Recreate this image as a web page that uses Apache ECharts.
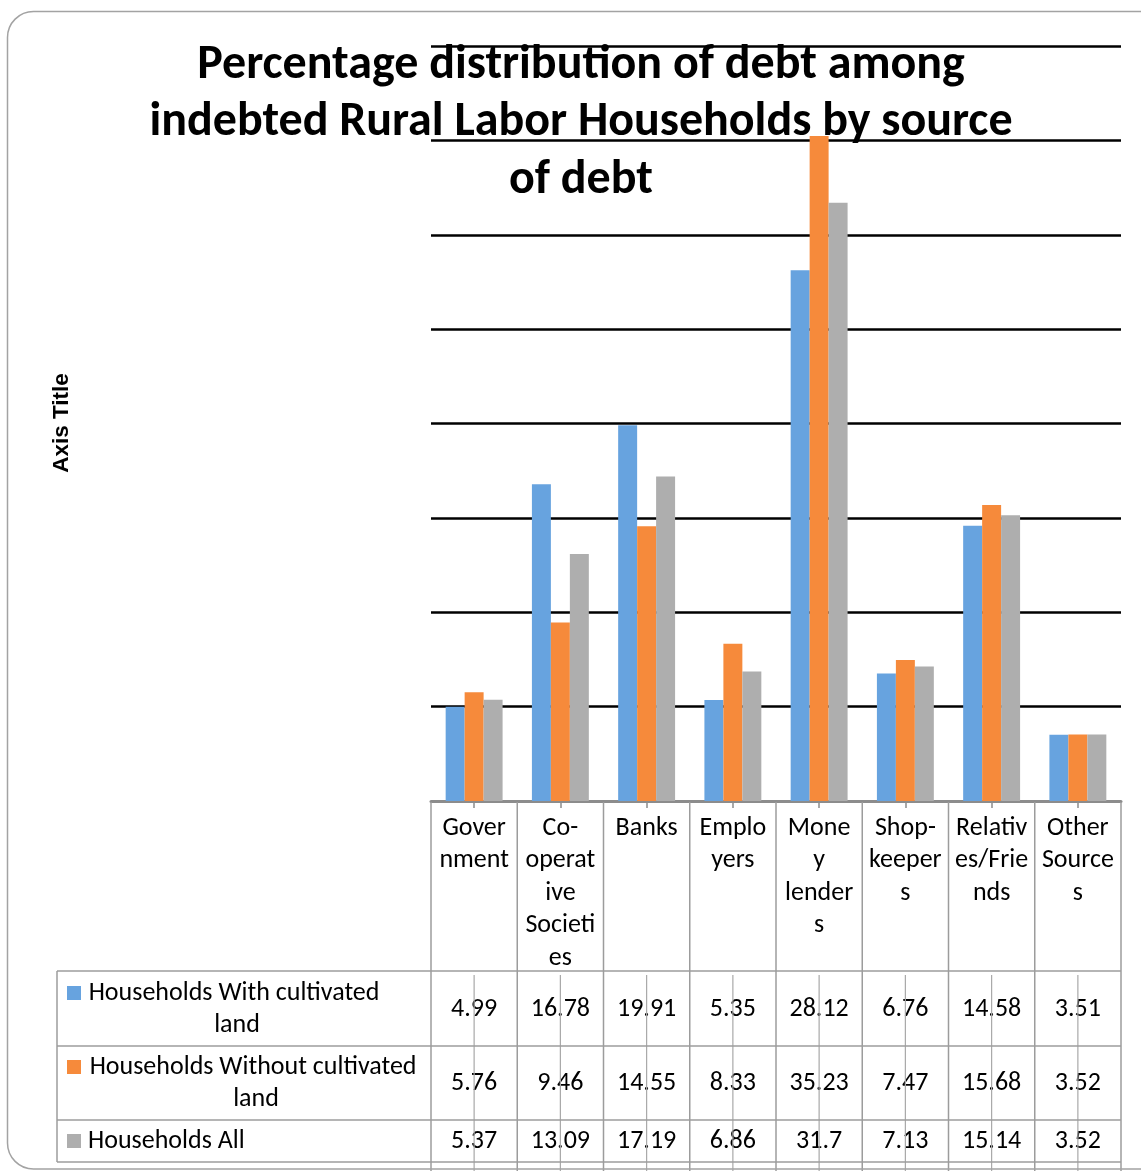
<!DOCTYPE html>
<html><head><meta charset="utf-8">
<script src="https://cdn.jsdelivr.net/npm/echarts@6/dist/echarts.min.js"></script>
<style>html,body{margin:0;padding:0;background:#fff}#c{width:1141px;height:1171px}</style>
</head><body><div id="c"></div>
<script>
// ---- data ----
const categories = ['Government', 'Co-operative Societies', 'Banks', 'Employers', 'Money lenders', 'Shop-keepers', 'Relatives/Friends', 'Other Sources'];
// header labels as wrapped in the reference's data table
const categoryLabels = ['Gover\nnment', 'Co-\noperat\nive\nSocieti\nes', 'Banks', 'Emplo\nyers', 'Mone\ny\nlender\ns', 'Shop-\nkeeper\ns', 'Relativ\nes/Frie\nnds', 'Other\nSource\ns'];
const seriesNames = ['Households With cultivated land', 'Households Without cultivated land', 'Households All'];
const withLand = [4.99, 16.78, 19.91, 5.35, 28.12, 6.76, 14.58, 3.51];
const withoutLand = [5.76, 9.46, 14.55, 8.33, 35.23, 7.47, 15.68, 3.52];
const allHouseholds = [5.37, 13.09, 17.19, 6.86, 31.7, 7.13, 15.14, 3.52];
const titleText = 'Percentage distribution of debt among\nindebted Rural Labor Households by source\nof debt';
const yAxisTitle = 'Axis Title';

// ---- style ----
const colors = ['#67A3DF', '#F68A3B', '#AEAEAE'];
const FONT = 'Carlito, Lato, "Open Sans", sans-serif';
const GRID = { left: 431, right: 20, top: 46, bottom: 370 };
const H = 1171;
const axisY = H - GRID.bottom;
const rowCenters = [1009, 1083, 1141];
const lineColor = '#9c9c9c';
const TFS = 26;

const seriesData = [withLand, withoutLand, allHouseholds];

const chart = echarts.init(document.getElementById('c'), null, { renderer: 'canvas' });

const xAxes = [{
  type: 'category', data: categories, position: 'bottom',
  axisLine: { show: true, lineStyle: { color: '#8c8c8c', width: 3 } },
  axisTick: { show: true, alignWithLabel: true, length: 7, lineStyle: { color: '#8c8c8c', width: 1.5 } },
  axisLabel: {
    interval: 0, margin: 11, color: '#000', fontFamily: FONT, fontSize: TFS, lineHeight: 32.5,
    verticalAlign: 'top', align: 'center',
    formatter: (v, i) => categoryLabels[i]
  },
  splitLine: { show: false }
}];
seriesData.forEach((arr, r) => {
  xAxes.push({
    type: 'category', data: categories, position: 'bottom',
    offset: rowCenters[r] - axisY,
    axisLine: { show: false }, axisTick: { show: false }, splitLine: { show: false },
    axisLabel: {
      interval: 0, margin: 0, color: '#000', fontFamily: FONT, fontSize: TFS,
      verticalAlign: 'middle', align: 'center',
      formatter: (v, i) => String(arr[i])
    }
  });
});

chart.setOption({
  animation: false,
  backgroundColor: '#fff',
  grid: GRID,
  xAxis: xAxes,
  yAxis: {
    type: 'value', min: 0, max: 40, interval: 5,
    axisLine: { show: false }, axisTick: { show: false }, axisLabel: { show: false },
    splitLine: { show: true, lineStyle: { color: ['rgba(0,0,0,0)', '#000', '#000', '#000', '#000', '#000', '#000', '#000', '#000'], width: 2.5 } }
  },
  series: seriesData.map((arr, k) => ({
    type: 'bar', name: seriesNames[k], data: arr, xAxisIndex: 0,
    barGap: '0%', barCategoryGap: '34%',
    itemStyle: { color: colors[k] }, z: 3
  }))
});

// ---- table / decorations ----
const xs = categories.map((c, i) => chart.convertToPixel({ xAxisIndex: 0 }, i));
const cellW = xs[1] - xs[0];
const x0 = xs[0] - cellW / 2;
const xEnd = x0 + cellW * categories.length;
const legendLeft = 57;
const rowLines = [971, 1046, 1120, 1162];
const g = [];

g.push({ type: 'rect', z: 10, shape: { x: 7.5, y: 11.5, width: 1250, height: 1157.5, r: 26 },
  style: { fill: 'none', stroke: '#a3a3a3', lineWidth: 1.5 }, silent: true });

g.push({ type: 'text', z: 1, style: {
  text: titleText, x: 581, y: 37, align: 'center', verticalAlign: 'top',
  font: 'bold 48px ' + FONT, lineHeight: 57.5, fill: '#000' } });

g.push({ type: 'text', z: 1, x: 62, y: 423, rotation: Math.PI / 2, style: {
  text: yAxisTitle, x: 0, y: 0, align: 'center', verticalAlign: 'middle',
  font: 'bold 22.5px "Liberation Sans", Arial, sans-serif', fill: '#000' } });

// vertical lines of table
for (let i = 0; i <= categories.length; i++) {
  const x = x0 + i * cellW;
  g.push({ type: 'line', z: 5, shape: { x1: x, y1: axisY + 1, x2: x, y2: H }, style: { stroke: lineColor, lineWidth: 1.5 } });
}
// horizontal lines of table
rowLines.forEach(y => g.push({ type: 'line', z: 5, shape: { x1: legendLeft, y1: y, x2: xEnd, y2: y }, style: { stroke: lineColor, lineWidth: 1.5 } }));
g.push({ type: 'line', z: 5, shape: { x1: legendLeft, y1: rowLines[0], x2: legendLeft, y2: rowLines[3] }, style: { stroke: lineColor, lineWidth: 1.5 } });
// tick lines crossing data rows
xs.forEach(x => g.push({ type: 'line', z: 4, shape: { x1: x, y1: 975, x2: x, y2: H }, style: { stroke: '#a8a8a8', lineWidth: 1.2 } }));

// legend keys
const legendTextCenters = [237, 256];
seriesNames.forEach((name, k) => {
  const cy = k < 2 ? rowCenters[k] - 16 : rowCenters[k];
  g.push({ type: 'rect', z: 6, shape: { x: 67, y: cy - 7, width: 14, height: 14 }, style: { fill: colors[k] } });
  if (k < 2) {
    g.push({ type: 'text', z: 6, style: {
      text: name, x: legendTextCenters[k], y: cy - 16, align: 'center', verticalAlign: 'top',
      width: 334, overflow: 'break', lineHeight: 32, font: TFS + 'px ' + FONT, fill: '#000' } });
  } else {
    g.push({ type: 'text', z: 6, style: {
      text: name, x: 88, y: cy, align: 'left', verticalAlign: 'middle', font: TFS + 'px ' + FONT, fill: '#000' } });
  }
});

chart.setOption({ graphic: { elements: g } });
</script>
</body></html>
